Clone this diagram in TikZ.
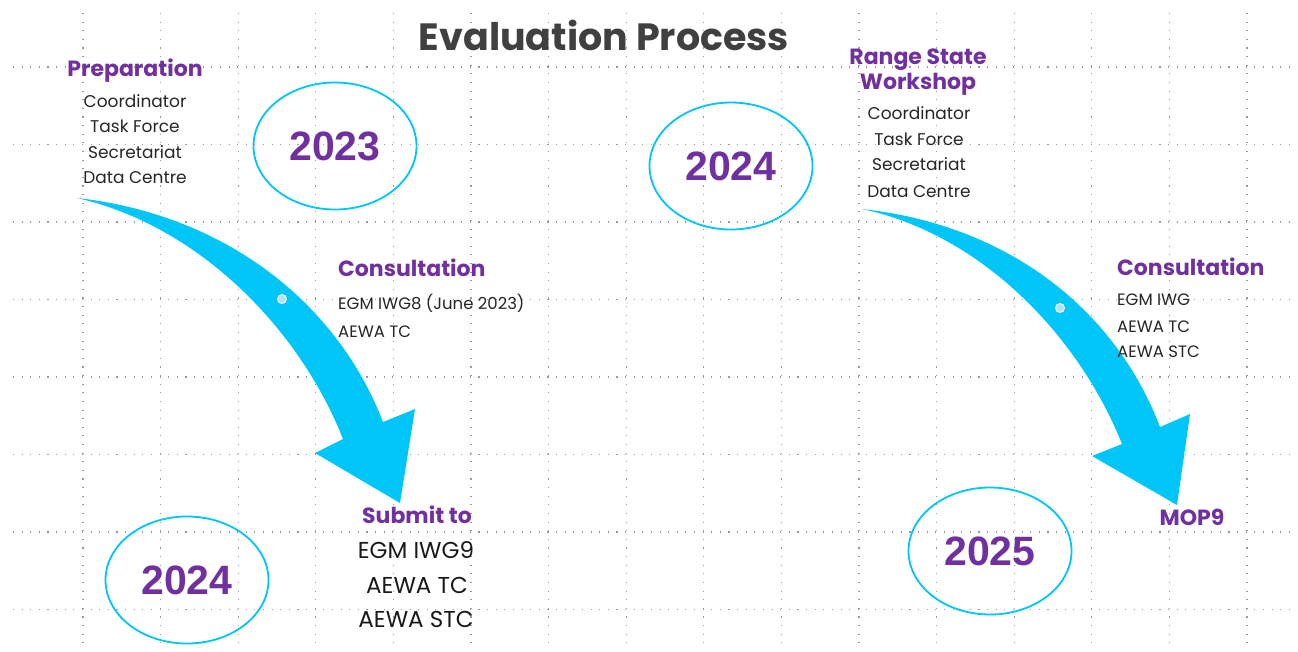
\documentclass[tikz,border=0pt]{standalone}
\usepackage{fontspec}
\setmainfont{Poppins}
\newfontfamily\yearfont{Liberation Sans}
\usetikzlibrary{shapes.geometric}
\definecolor{purp}{HTML}{7030A0}
\definecolor{cyanA}{HTML}{00C6F8}
\definecolor{ttl}{HTML}{404040}
\definecolor{gridc}{HTML}{999999}
\definecolor{dotc}{HTML}{B4E1FA}
\begin{document}
\begin{tikzpicture}[x=1pt,y=-1pt,
  gridline/.style={draw=gridc,line width=1.1pt,dash pattern=on 1.1pt off 7.52pt},
  titletext/.style={text=ttl,font=\fontsize{38}{40}\selectfont\bfseries,inner sep=0pt,anchor=base},
  headtext/.style={text=purp,font=\fontsize{22}{24}\selectfont\bfseries,inner sep=0pt,anchor=base},
  itemtext/.style={text=black!85,font=\fontsize{17}{20}\selectfont,inner sep=0pt,anchor=base},
  smalltext/.style={text=black!85,font=\fontsize{16.5}{18}\selectfont,inner sep=0pt,anchor=base west},
  bigtext/.style={text=black!90,font=\fontsize{23}{26}\selectfont,inner sep=0pt,anchor=base},
  yearoval/.style={ellipse,draw=cyanA,line width=1.8pt,minimum width=163pt,minimum height=127pt,inner sep=0pt,
    text=purp,font=\yearfont\fontsize{41}{44}\selectfont\bfseries},
  bigarrow/.style={fill=cyanA},
  pathdot/.style={circle,fill=dotc,draw=white,line width=0.9pt,minimum size=9pt,inner sep=0pt}
]
\useasboundingbox (0,0) rectangle (1298,651);
\fill[white] (0,0) rectangle (1298,651);
% dotted grid
\foreach \i in {0,...,15} \draw[gridline] ({83+77.6*\i},13) -- ({83+77.6*\i},645);
\foreach \j in {0,...,7} \draw[gridline] (13,{67+77.5*\j}) -- (1290,{67+77.5*\j});

% title
\node[titletext] (title) at (604,50) {Evaluation Process};

% left column
\node[headtext] (prep) at (135,76.7) {Preparation};
\node[itemtext] (p1) at (135,107.7) {Coordinator};
\node[itemtext] (p2) at (135,132) {Task Force};
\node[itemtext] (p3) at (135,158) {Secretariat};
\node[itemtext] (p4) at (135,183) {Data Centre};

\node[yearoval] (y2023) at (335,146) {2023};

% arrow 1
\coordinate (a1tail) at (77,198);
\fill[bigarrow] (a1tail) .. controls (222,214) and (336,300) .. (383,422)
  -- (415,409) -- (400,503) -- (315,453) -- (343,439)
  .. controls (300,330) and (200,226) .. (a1tail) -- cycle;
\node[pathdot] (d1) at (282,299) {};

\node[headtext,anchor=base west] (cons1) at (338,276.7) {Consultation};
\node[smalltext] (c1a) at (338,309) {EGM IWG8 (June 2023)};
\node[smalltext] (c1b) at (338,337) {AEWA TC};

\node[headtext] (submit) at (417,523) {Submit to};
\node[bigtext] (s1) at (416,558) {EGM IWG9};
\node[bigtext] (s2) at (417,593) {AEWA TC};
\node[bigtext] (s3) at (416,627) {AEWA STC};

\node[yearoval] (y2024a) at (187,580) {2024};

% right half
\node[yearoval] (y2024b) at (731,166) {2024};

\node[headtext] (rsw1) at (918,64) {Range State};
\node[headtext] (rsw2) at (918,89) {Workshop};
\node[itemtext] (r1) at (919,119) {Coordinator};
\node[itemtext] (r2) at (919,145) {Task Force};
\node[itemtext] (r3) at (919,170) {Secretariat};
\node[itemtext] (r4) at (919,197) {Data Centre};

% arrow 2
\coordinate (a2tail) at (862,209);
\fill[bigarrow] (a2tail) .. controls (1002,224) and (1113,304) .. (1160,427)
  -- (1190,414) -- (1177,505) -- (1092,456) -- (1122,444)
  .. controls (1078,334) and (980,234) .. (a2tail) -- cycle;
\node[pathdot] (d2) at (1060,308) {};

\node[headtext,anchor=base west] (cons2) at (1117,275) {Consultation};
\node[smalltext] (c2a) at (1117,305) {EGM IWG};
\node[smalltext] (c2b) at (1117,332) {AEWA TC};
\node[smalltext] (c2c) at (1117,357) {AEWA STC};

\node[headtext] (mop) at (1192,525) {MOP9};
\node[yearoval] (y2025) at (990,551) {2025};
\end{tikzpicture}
\end{document}
